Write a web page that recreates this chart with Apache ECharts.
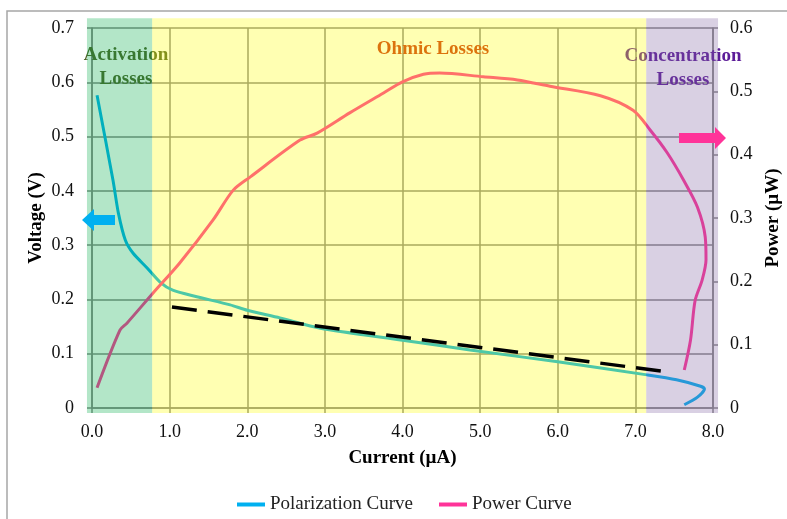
<!DOCTYPE html>
<html>
<head>
<meta charset="utf-8">
<script src="https://cdn.jsdelivr.net/npm/echarts@6/dist/echarts.min.js"></script>
<style>
  html, body { margin: 0; padding: 0; background: #fff; }
  #chart { width: 787px; height: 519px; }
</style>
</head>
<body>
<div id="chart"></div>
<script>
// Fuel cell polarization and power curves vs. current

// Polarization curve: current (µA), voltage (V)
const polCurrent = [0.065, 0.27, 0.34, 0.43, 0.53, 0.71, 0.876, 1.04, 1.35, 1.78, 2.0, 2.42, 2.94, 4.0, 4.87, 6.0, 7.15, 7.53, 7.84, 7.89, 7.8, 7.63];
const polVoltage = [0.576, 0.42, 0.359, 0.309, 0.285, 0.258, 0.232, 0.217, 0.205, 0.19, 0.18, 0.166, 0.147, 0.125, 0.107, 0.085, 0.061, 0.052, 0.04, 0.035, 0.02, 0.006];

// Power curve: current (µA), power (µW)
const powCurrent = [0.065, 0.36, 0.45, 0.79, 1.13, 1.56, 1.82, 2.04, 2.68, 2.9, 3.32, 3.75, 4.0, 4.27, 4.48, 5.04, 5.48, 5.9, 6.55, 6.97, 7.19, 7.41, 7.62, 7.8, 7.9, 7.91, 7.86, 7.77, 7.71, 7.63];
const powPower = [0.032, 0.123, 0.134, 0.182, 0.229, 0.297, 0.344, 0.365, 0.423, 0.434, 0.466, 0.497, 0.515, 0.527, 0.529, 0.523, 0.518, 0.508, 0.493, 0.47, 0.439, 0.403, 0.36, 0.317, 0.27, 0.234, 0.202, 0.17, 0.107, 0.06];

// Linear ohmic trend line (dashed)
const trendCurrent = [1.03, 7.33];
const trendVoltage = [0.186, 0.068];

// Loss regions along the current axis
const regionNames = ['Activation Losses', 'Ohmic Losses', 'Concentration Losses'];
const regionEdges = [-0.065, 0.775, 7.14, 8.065];
const regionVoltageSpan = [-0.009, 0.718];

// Axis ticks
const currentTicks = [0, 8, 1];      // min, max, step
const voltageTicks = [0, 0.7, 0.1];
const powerTicks = [0, 0.6, 0.1];

const FONT = 'Liberation Serif';
const POL_COLOR = '#00b0f0';
const POW_COLOR = '#ff3399';
const REGION_FILLS = ['rgba(2,172,72,0.3)', 'rgba(255,255,0,0.3)', 'rgba(128,98,162,0.3)'];
const GRID_COLOR = '#868686';

const zip = (a, b) => a.map((v, i) => [v, b[i]]);
const regionData = regionNames.map((n, i) => [regionEdges[i], regionEdges[i + 1], regionVoltageSpan[0], regionVoltageSpan[1]]);

const chart = echarts.init(document.getElementById('chart'), null, { renderer: 'canvas' });

const axisCommon = {
  axisLine: { show: true, lineStyle: { color: GRID_COLOR, width: 1.5 } },
  axisTick: { show: true, inside: false, length: 5, lineStyle: { color: GRID_COLOR, width: 1.5 } },
  nameTextStyle: { fontFamily: FONT, fontSize: 19, fontWeight: 'bold', color: '#000' }
};

chart.setOption({
  animation: false,
  backgroundColor: '#fff',
  grid: { left: 92, right: 74, top: 28, bottom: 111, containLabel: false, outerBoundsMode: 'none' },
  legend: {
    data: ['Polarization Curve', 'Power Curve'],
    left: 232, top: 490,
    icon: 'rect',
    itemWidth: 28, itemHeight: 4, itemGap: 26,
    textStyle: { fontFamily: FONT, fontSize: 19, color: '#222' }
  },
  xAxis: Object.assign({}, axisCommon, {
    type: 'value', min: currentTicks[0], max: currentTicks[1], interval: currentTicks[2],
    name: 'Current (µA)', nameLocation: 'middle', nameGap: 41,
    axisLabel: { fontFamily: FONT, fontSize: 18, color: '#111', margin: 15, formatter: v => v.toFixed(1) },
    splitLine: { show: true, lineStyle: { color: GRID_COLOR, width: 1.5 } }
  }),
  yAxis: [
    Object.assign({}, axisCommon, {
      type: 'value', min: voltageTicks[0], max: voltageTicks[1], interval: voltageTicks[2],
      name: 'Voltage (V)', nameLocation: 'middle', nameRotate: 90, nameGap: 46, nameMoveOverlap: false,
      axisLabel: { fontFamily: FONT, fontSize: 18, color: '#111', margin: 18, formatter: v => v === 0 ? '0' : v.toFixed(1) },
      splitLine: { show: true, lineStyle: { color: GRID_COLOR, width: 1.5 } }
    }),
    Object.assign({}, axisCommon, {
      type: 'value', position: 'right', min: powerTicks[0], max: powerTicks[1], interval: powerTicks[2],
      name: 'Power (µW)', nameLocation: 'middle', nameRotate: 90, nameGap: 50,
      axisLabel: { fontFamily: FONT, fontSize: 18, color: '#111', margin: 17, formatter: v => v === 0 ? '0' : v.toFixed(1) },
      splitLine: { show: false }
    })
  ],
  graphic: [
    // outer frame
    { type: 'rect', z: 0, silent: true, shape: { x: 7, y: 11, width: 800, height: 540 },
      style: { fill: null, stroke: '#a6a6a6', lineWidth: 1.5 } },
    // region titles (beneath the translucent region fills)
    { type: 'text', z: 1, style: { text: 'Activation\nLosses', x: 126, y: 67, align: 'center', verticalAlign: 'middle',
      font: 'bold 19px "Liberation Serif"', fill: '#4f6228', lineHeight: 24 } },
    { type: 'text', z: 1, style: { text: 'Ohmic Losses', x: 433, y: 49, align: 'center', verticalAlign: 'middle',
      font: 'bold 19px "Liberation Serif"', fill: 'rgb(205,55,20)' } },
    { type: 'text', z: 1, style: { text: 'Concentration\nLosses', x: 683, y: 68, align: 'center', verticalAlign: 'middle',
      font: 'bold 19px "Liberation Serif"', fill: '#5c1c98', lineHeight: 24 } },
    // axis pointer arrows
    { type: 'polygon', z: 20, shape: { points: [[82, 220], [94, 209], [94, 215], [115, 215], [115, 225], [94, 225], [94, 231]] },
      style: { fill: POL_COLOR } },
    { type: 'polygon', z: 20, shape: { points: [[726, 138], [715, 127], [715, 133], [679, 133], [679, 143], [715, 143], [715, 149]] },
      style: { fill: POW_COLOR } }
  ],
  series: [
    {
      name: 'Polarization Curve', type: 'line', xAxisIndex: 0, yAxisIndex: 0, z: 2,
      data: zip(polCurrent, polVoltage), showSymbol: false, symbol: 'none', smooth: 0.25,
      lineStyle: { color: POL_COLOR, width: 3 }, itemStyle: { color: POL_COLOR }
    },
    {
      name: 'Power Curve', type: 'line', xAxisIndex: 0, yAxisIndex: 1, z: 2,
      data: zip(powCurrent, powPower), showSymbol: false, symbol: 'none', smooth: 0.3,
      lineStyle: { color: POW_COLOR, width: 3 }, itemStyle: { color: POW_COLOR }
    },
    {
      name: 'Ohmic trend', type: 'line', xAxisIndex: 0, yAxisIndex: 0, z: 8,
      data: zip(trendCurrent, trendVoltage), showSymbol: false, symbol: 'none',
      lineStyle: { color: '#000', width: 3.5, type: [25, 11] }
    },
    {
      name: 'Loss regions', type: 'custom', xAxisIndex: 0, yAxisIndex: 0, z: 5, clip: false, silent: true,
      data: regionData,
      encode: { x: [0, 1], y: [2, 3] },
      renderItem: function (params, api) {
        const p0 = api.coord([api.value(0), api.value(3)]);
        const p1 = api.coord([api.value(1), api.value(2)]);
        return {
          type: 'rect',
          shape: { x: p0[0], y: p0[1], width: p1[0] - p0[0], height: p1[1] - p0[1] },
          style: { fill: REGION_FILLS[params.dataIndex] }
        };
      }
    }
  ]
});
</script>
</body>
</html>
